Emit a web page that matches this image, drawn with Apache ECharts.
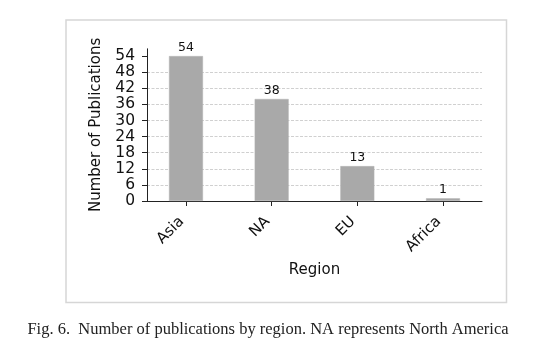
<!DOCTYPE html>
<html>
<head>
<meta charset="utf-8">
<style>html,body{margin:0;padding:0;background:#fff;}#c{width:542px;height:363px;}</style>
<script src="https://cdn.jsdelivr.net/npm/echarts@6/dist/echarts.min.js"></script>
</head>
<body>
<div id="c"></div>
<script>
const categories = ['Asia', 'NA', 'EU', 'Africa'];
const publications = [54, 38, 13, 1];
const yTicks = [0, 6, 12, 18, 24, 30, 36, 42, 48, 54];
const captionText = 'Fig. 6.  Number of publications by region. NA represents North America';

const chart = echarts.init(document.getElementById('c'), null, {renderer: 'canvas'});
const font = 'DejaVu Sans';
const idx = categories.map((_, i) => i);
chart.setOption({
  animation: false,
  backgroundColor: '#ffffff',
  grid: {left: 147, right: 60, top: 48.8, bottom: 162, containLabel: false},
  xAxis: {
    type: 'value',
    min: -0.455, max: 3.455,
    name: 'Region', nameLocation: 'middle', nameGap: 62,
    nameTextStyle: {fontFamily: font, fontSize: 15, color: '#111'},
    axisLine: {show: true, onZero: false, lineStyle: {color: '#222', width: 1}},
    axisTick: {show: true, length: 5, customValues: idx, lineStyle: {color: '#222', width: 1}},
    axisLabel: {
      customValues: idx, rotate: 45, margin: 14, padding: [0, 6, 0, 0],
      fontFamily: font, fontSize: 15, color: '#111',
      formatter: v => categories[Math.round(v)] || ''
    },
    splitLine: {show: false}
  },
  yAxis: {
    type: 'value', min: 0, max: 56.7, interval: 6,
    name: 'Number of Publications', nameLocation: 'middle', nameGap: 43,
    nameTextStyle: {fontFamily: font, fontSize: 15, color: '#111'},
    axisLine: {show: true, onZero: false, lineStyle: {color: '#222', width: 1}},
    axisTick: {show: true, length: 5, customValues: yTicks, lineStyle: {color: '#222', width: 1}},
    axisLabel: {customValues: yTicks, margin: 12, fontFamily: font, fontSize: 15.5, color: '#111'},
    splitLine: {show: true, showMinLine: false, showMaxLine: false,
      lineStyle: {color: '#c4c4c4', width: 0.8, type: [3, 1.5]}}
  },
  series: [{
    type: 'bar',
    data: publications.map((v, i) => [i, v]),
    barWidth: 34,
    itemStyle: {color: '#a9a9a9', borderColor: '#b4b4b4', borderWidth: 0.5},
    label: {show: true, position: 'top', distance: 2, fontFamily: font, fontSize: 12.5, color: '#111'}
  }],
  graphic: [
    {type: 'rect', shape: {x: 66, y: 20, width: 440.5, height: 282.5},
     style: {fill: 'none', stroke: '#d6d6d6', lineWidth: 1.5}, z: -1},
    {type: 'text', x: 268, y: 330,
     style: {text: captionText, fontFamily: 'Liberation Serif', fontSize: 16.5, fill: '#222',
       textAlign: 'center', textVerticalAlign: 'middle'}}
  ]
});
</script>
</body>
</html>
